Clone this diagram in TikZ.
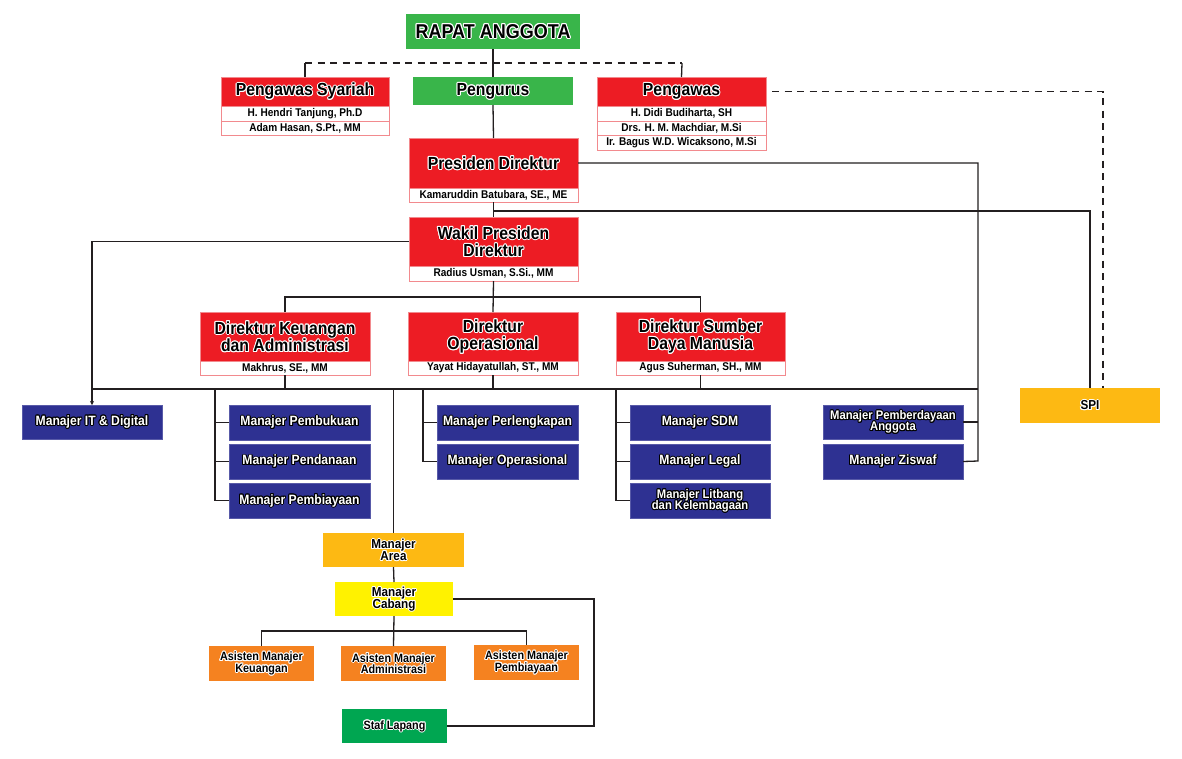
\documentclass[tikz,border=0pt]{standalone}
\usepackage{fontspec}
\setmainfont{Liberation Sans}[FakeStretch=0.9]
\usetikzlibrary{arrows.meta}
\definecolor{cred}{HTML}{ED1C24}
\definecolor{cgreen}{HTML}{39B54A}
\definecolor{cnavy}{HTML}{2E3192}
\definecolor{camber}{HTML}{FDB913}
\definecolor{cyel}{HTML}{FFF200}
\definecolor{corange}{HTML}{F58220}
\definecolor{cstaf}{HTML}{00A651}
\definecolor{cline}{HTML}{231F20}
\definecolor{cpink}{HTML}{F28A8E}
\newlength\halow
\halow=1.0pt
\newbox\halobx
\newcommand\halotext[3]{\begingroup\setbox\halobx=\hbox{#3}%
  \leavevmode{\color{#1}\foreach \a in {0,30,...,330}{\pgfmathsetlengthmacro\hx{\halow*cos(\a)}\pgfmathsetlengthmacro\hy{\halow*sin(\a)}\rlap{\kern\hx\raise\hy\copy\halobx}}}%
  {\color{#2}\box\halobx}\endgroup}
\newcommand\hlb[1]{\halotext{white}{black}{#1}}
\newcommand\hlw[1]{\halotext{black}{white}{#1}}
\newcommand\bx[7]{\node[#2, minimum width={#5-#3}, minimum height={#6-#4}] (#1) at ({(#3+#5)/2},{(#4+#6)/2}) {#7};}
\tikzset{
  base/.style={inner sep=0pt, outer sep=0pt, align=center, text=black},
  topbox/.style={base, fill=cgreen, font=\fontsize{20}{20}\selectfont\bfseries},
  grn/.style={base, fill=cgreen, font=\fontsize{17.5}{17.5}\selectfont\bfseries},
  hdr/.style={base, fill=cred, draw=cpink, line width=0.6pt, font=\fontsize{17.5}{17.5}\selectfont\bfseries},
  row/.style={base, fill=white, draw=cpink, line width=0.8pt, font=\fontsize{11.2}{12}\selectfont\bfseries},
  mgr/.style={base, fill=cnavy, draw=cnavy!80!white, line width=0.5pt, font=\fontsize{13.5}{11}\selectfont\bfseries},
  mgrs/.style={mgr, font=\fontsize{12.5}{11}\selectfont\bfseries},
  amber/.style={base, fill=camber, font=\fontsize{13}{11.5}\selectfont\bfseries},
  yel/.style={base, fill=cyel, font=\fontsize{13}{11.5}\selectfont\bfseries},
  asst/.style={base, fill=corange, font=\fontsize{12}{11.5}\selectfont\bfseries},
  staf/.style={base, fill=cstaf, font=\fontsize{12}{11.5}\selectfont\bfseries},
  link/.style={draw=cline, line width=1.3pt},
  dlink/.style={draw=cline, line width=1.5pt, dash pattern=on 7pt off 5.5pt},
}
\begin{document}
\lineskiplimit=-50pt
\lineskip=0pt
\begin{tikzpicture}[x=1pt, y=-1pt]
\useasboundingbox[fill=white] (0,0) rectangle (1182,758);
% top
\bx{ra}{topbox}{406}{14}{580}{49}{\hlb{RAPAT ANGGOTA}}
\bx{psh}{hdr}{221}{77}{389}{106}{\hlb{Pengawas Syariah}}
\bx{psr1}{row}{221}{106}{389}{121}{H. Hendri Tanjung, Ph.D}
\bx{psr2}{row}{221}{121}{389}{135}{Adam Hasan, S.Pt., MM}
\bx{pgr}{grn}{413}{77}{573}{105}{\hlb{Pengurus}}
\bx{pwh}{hdr}{597}{77}{766}{106}{\hlb{Pengawas}}
\bx{pwr1}{row}{597}{106}{766}{121}{H. Didi Budiharta, SH}
\bx{pwr2}{row}{597}{121}{766}{135}{Drs. H. M. Machdiar, M.Si}
\bx{pwr3}{row}{597}{135}{766}{150}{Ir. Bagus W.D. Wicaksono, M.Si}
\bx{pdh}{hdr}{409}{138}{578}{188}{\hlb{Presiden Direktur}}
\bx{pdr}{row}{409}{188}{578}{202}{Kamaruddin Batubara, SE., ME}
\bx{wph}{hdr}{409}{217}{578}{266}{\hlb{Wakil Presiden}\\\hlb{Direktur}}
\bx{wpr}{row}{409}{266}{578}{281}{Radius Usman, S.Si., MM}
% directors
\bx{dkh}{hdr}{200}{312}{370}{361}{\hlb{Direktur Keuangan}\\\hlb{dan Administrasi}}
\bx{dkr}{row}{200}{361}{370}{375}{Makhrus, SE., MM}
\bx{doh}{hdr}{408}{312}{578}{361}{\hlb{Direktur}\\\hlb{Operasional}}
\bx{dor}{row}{408}{361}{578}{375}{Yayat Hidayatullah, ST., MM}
\bx{dsh}{hdr}{616}{312}{785}{361}{\hlb{Direktur Sumber}\\\hlb{Daya Manusia}}
\bx{dsr}{row}{616}{361}{785}{375}{Agus Suherman, SH., MM}
% managers
\bx{mit}{mgr}{22}{405}{162}{439}{\hlw{Manajer IT \& Digital}}
\bx{pbk}{mgr}{229}{405}{370}{440}{\hlw{Manajer Pembukuan}}
\bx{pdn}{mgr}{229}{444}{370}{479}{\hlw{Manajer Pendanaan}}
\bx{pby}{mgr}{229}{483}{370}{518}{\hlw{Manajer Pembiayaan}}
\bx{plk}{mgr}{437}{405}{578}{440}{\hlw{Manajer Perlengkapan}}
\bx{ops}{mgr}{437}{444}{578}{479}{\hlw{Manajer Operasional}}
\bx{sdm}{mgr}{630}{405}{770}{440}{\hlw{Manajer SDM}}
\bx{lgl}{mgr}{630}{444}{770}{479}{\hlw{Manajer Legal}}
\bx{ltb}{mgrs}{630}{483}{770}{518}{\hlw{Manajer Litbang}\\\hlw{dan Kelembagaan}}
\bx{pem}{mgrs}{823}{405}{963}{439}{\hlw{Manajer Pemberdayaan}\\\hlw{Anggota}}
\bx{zis}{mgr}{823}{444}{963}{479}{\hlw{Manajer Ziswaf}}
\bx{spi}{amber}{1020}{388}{1160}{423}{\hlb{SPI}}
% branch
\bx{area}{amber}{323}{533}{464}{567}{\hlb{Manajer}\\\hlb{Area}}
\bx{cab}{yel}{335}{582}{453}{616}{\hlb{Manajer}\\\hlb{Cabang}}
\bx{ask}{asst}{209}{646}{314}{681}{\hlb{Asisten Manajer}\\\hlb{Keuangan}}
\bx{asa}{asst}{341}{646}{446}{681}{\hlb{Asisten Manajer}\\\hlb{Administrasi}}
\bx{asp}{asst}{474}{645}{579}{680}{\hlb{Asisten Manajer}\\\hlb{Pembiayaan}}
\bx{stf}{staf}{342}{709}{447}{743}{\hlb{Staf Lapang}}
% junction coordinates
\coordinate (dl) at (305,63);
\coordinate (dr) at (682,63);
\coordinate (j1) at (493,211);
\coordinate (b2l) at (285,297);
\coordinate (b2r) at (700.5,297);
\coordinate (busl) at (92,389);
\coordinate (rv) at (978,461);
\coordinate (c1) at (215,389);
\coordinate (c2) at (423,389);
\coordinate (c3) at (616,389);
\coordinate (c5) at (394,631);
\coordinate (c6) at (594,726);
% connectors top
\draw[link] (ra.south) -- (pgr.north);
\draw[link] (pgr.south) -- (pdh.north);
\draw[link] (pdr.south) -- (wph.north);
\draw[link] (psh.north) -- (dl);
\draw[dlink] (dl) -- (dr);
\draw[link] (dr) -- (pwh.north);
\draw[dlink] ([xshift=6pt]pwh.east) -| ([xshift=13pt]spi.north);
\draw[link] (j1) -| (spi.north);
\draw[link] (pdh.east) -| (rv) -- (zis.east);
\draw[link] (pem.east) -- (pem.east -| rv);
\draw[link, -{Stealth[length=4pt,width=4pt]}] (wph.west) -| (mit.north);
% directors
\draw[link] (wpr.south) -- (doh.north);
\draw[link] (dkh.north) -- (b2l) -- (b2r) -- (dsh.north);
\draw[link] (busl) -- (busl -| rv);
\draw[link] (dkr.south) -- (dkr.south |- busl);
\draw[link] (dor.south) -- (dor.south |- busl);
\draw[link] (dsr.south) -- (dsr.south |- busl);
% manager branches
\draw[link] (c1) |- (pby.west);
\draw[link] (pbk.west) -- (pbk.west -| c1);
\draw[link] (pdn.west) -- (pdn.west -| c1);
\draw[link] (c2) |- (ops.west);
\draw[link] (plk.west) -- (plk.west -| c2);
\draw[link] (c3) |- (ltb.west);
\draw[link] (sdm.west) -- (sdm.west -| c3);
\draw[link] (lgl.west) -- (lgl.west -| c3);
\draw[link] (area.north |- busl) -- (area.north);
% branch office
\draw[link] (area.south) -- (cab.north);
\draw[link] (cab.south) -- (asa.north);
\draw[link] (ask.north) |- (c5) -| (asp.north);
\draw[link] (cab.east) -| (c6) -- (stf.east);
\end{tikzpicture}
\end{document}
